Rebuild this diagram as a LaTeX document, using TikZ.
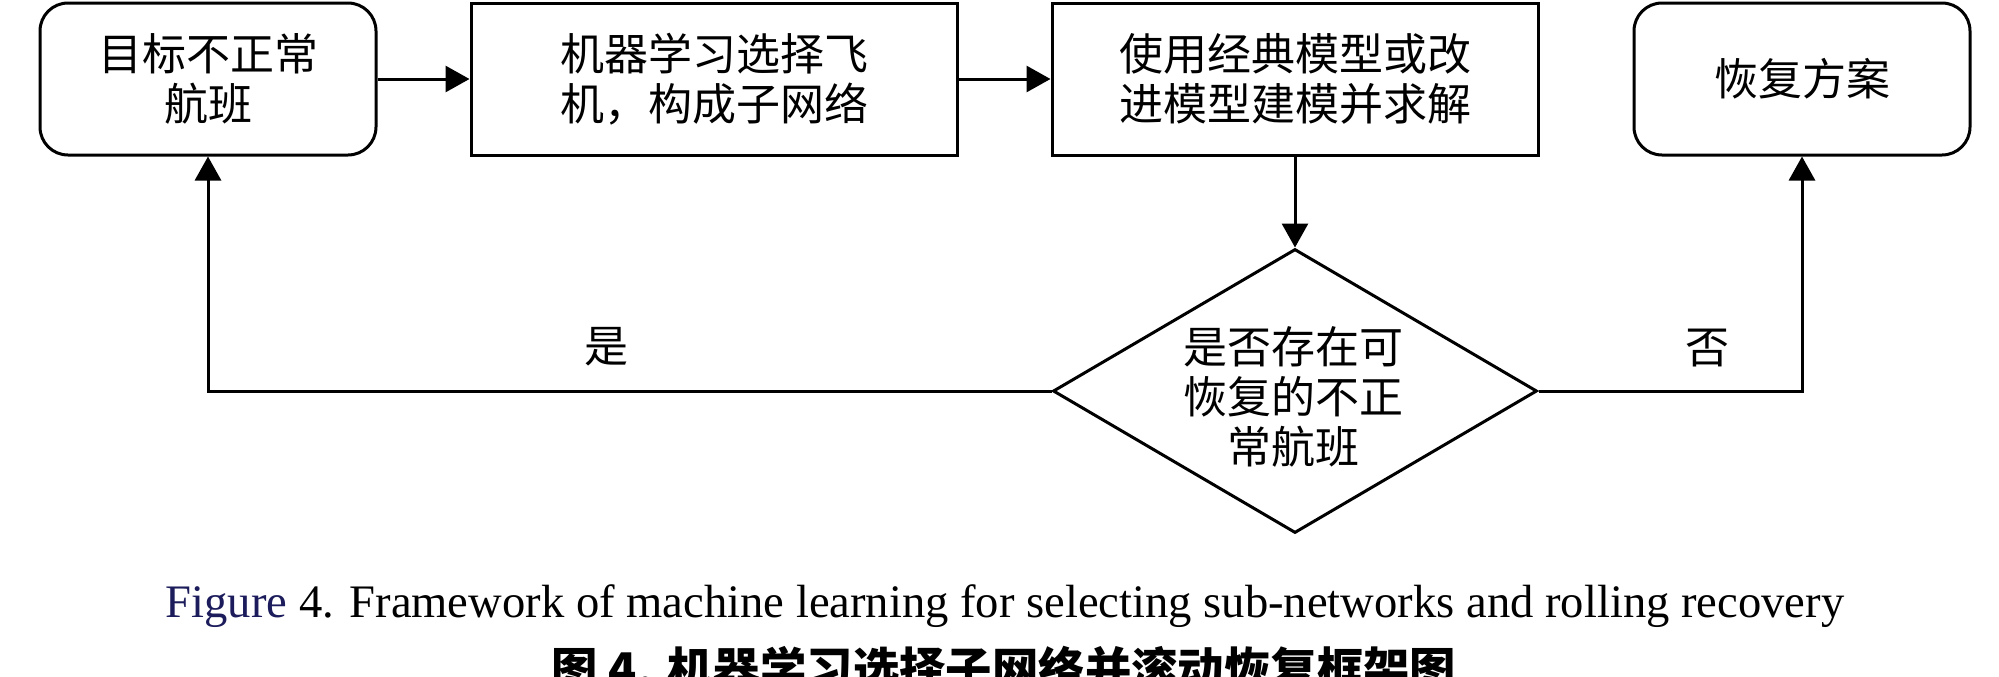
\documentclass[tikz,border=0pt]{standalone}
\usepackage{fontspec}
\setmainfont{Liberation Serif}
\newfontfamily\cjk{Noto Sans CJK SC}
\usetikzlibrary{shapes.geometric, arrows.meta}
\definecolor{capnavy}{RGB}{28,28,92}
\begin{document}
\begin{tikzpicture}[x=0.5pt,y=-0.5pt,
  box/.style={draw, line width=1.5pt, minimum height=76pt, inner sep=0pt, align=center,
    font=\cjk\fontsize{22pt}{25pt}\selectfont},
  rbox/.style={box, rounded corners=14pt, minimum width=168pt},
  sbox/.style={box, minimum width=243pt},
  dbox/.style={draw, diamond, line width=1.5pt, minimum width=242pt, minimum height=142pt, inner sep=0pt},
  lbl/.style={inner sep=0pt, align=center, font=\cjk\fontsize{22pt}{25pt}\selectfont},
  arr/.style={-{Triangle[length=12pt,width=13pt]}, line width=1.5pt},
  captxt/.style={anchor=base, inner sep=0pt}]
\clip (0,0) rectangle (1999,676);
\fill[white] (0,0) rectangle (1999,676);
\node[rbox] (b1) at (208,79) {目标不正常\\航班};
\node[sbox] (b2) at (714,79) {机器学习选择飞\\机，构成子网络};
\node[sbox] (b3) at (1295,79) {使用经典模型或改\\进模型建模并求解};
\node[rbox] (b4) at (1802,79) {恢复方案};
\node[dbox] (d) at (1295,391) {};
\node[lbl] (dt) at (1293,397) {是否存在可\\恢复的不正\\常航班};
\draw[arr] (b1) -- (b2);
\draw[arr] (b2) -- (b3);
\draw[arr] (b3) -- (d);
\draw[arr] (d.west) -| (b1.south);
\draw[arr] (d.east) -| (b4.south);
\node[lbl] (yes) at (606,347) {是};
\node[lbl] (no) at (1707,348) {否};
\node[captxt, font=\fontsize{23.3pt}{28pt}\selectfont] (cap1) at (1005,617)
  {\textcolor{capnavy}{Figure} 4. Framework of machine learning for selecting sub-networks and rolling recovery};
\node[captxt, font=\cjk\bfseries\fontsize{23.2pt}{28pt}\selectfont] (cap2) at (1004,686)
  {图 4. 机器学习选择子网络并滚动恢复框架图};
\end{tikzpicture}
\end{document}
